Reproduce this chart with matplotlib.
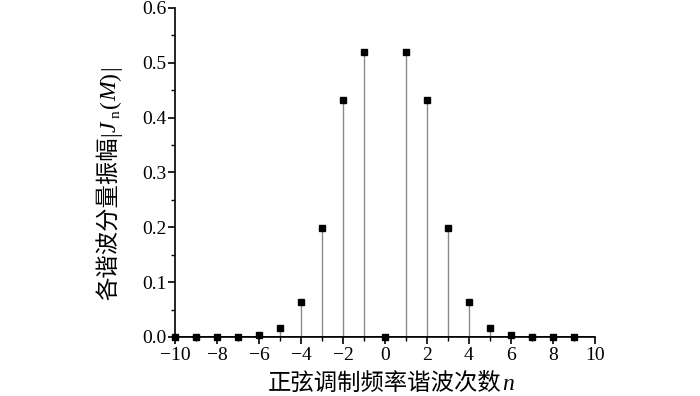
import matplotlib
matplotlib.use("Agg")
import matplotlib.pyplot as plt
from matplotlib.ticker import MultipleLocator
from matplotlib.transforms import IdentityTransform

plt.rcParams['font.family'] = ['Liberation Serif', 'Noto Sans CJK SC']
plt.rcParams['axes.unicode_minus'] = True

n_values = [-10, -9, -8, -7, -6, -5, -4, -3, -2, -1, 0, 1, 2, 3, 4, 5, 6, 7, 8, 9]
amplitudes = [0.0, 0.0, 0.0, 0.0006, 0.0034, 0.0164, 0.0647, 0.199, 0.432, 0.519, 0.0,
              0.519, 0.432, 0.199, 0.0647, 0.0164, 0.0034, 0.0006, 0.0, 0.0]
x_ticks = [-10, -8, -6, -4, -2, 0, 2, 4, 6, 8, 10]
y_ticks = [0.0, 0.1, 0.2, 0.3, 0.4, 0.5, 0.6]
# (text, style, subscript flag, extra gap after in px)
xlabel_parts = [('正弦调制频率谐波次数', 'cjk', 0, 0), ('n', 'it', 0, 0)]
ylabel_parts = [('各谐波分量振幅', 'cjk', 0, 0), ('|', 'rm', 0, 0), ('J', 'it', 0, 3),
                ('n', 'sub', 1, 2), ('(', 'rm', 0, 0), ('M', 'it', 0, 0), (')', 'rm', 0, 3),
                ('|', 'rm', 0, 0)]

fig = plt.figure(figsize=(7, 3.96), dpi=100)
ax = fig.add_axes([0.25, 0.149, 0.60, 0.831])

ml, sl, bl = ax.stem(n_values, amplitudes, basefmt=' ')
plt.setp(sl, color='#8a8a8a', linewidth=1.0)
plt.setp(ml, marker='s', markersize=5, color='black', zorder=3, clip_on=False)

ax.axhline(0, color='black', linewidth=1.2, zorder=2)
ax.set_xlim(-10, 10)
ax.set_ylim(0, 0.6)
ax.set_xticks(x_ticks)
ax.set_yticks(y_ticks)
ax.set_xticklabels([str(v).replace('-', '\u2212') for v in x_ticks])
ax.set_yticklabels([f'{v:.1f}' for v in y_ticks])
ax.xaxis.set_minor_locator(MultipleLocator(1))
ax.yaxis.set_minor_locator(MultipleLocator(0.05))

for s in ['top', 'right']:
    ax.spines[s].set_visible(False)
for s in ['left', 'bottom']:
    ax.spines[s].set_linewidth(1.2)

ax.tick_params(axis='both', which='major', direction='out', length=5, width=1.2, labelsize=14)
ax.tick_params(axis='both', which='minor', direction='out', length=3, width=1.0)
ax.tick_params(axis='y', pad=1)
ax.tick_params(axis='x', pad=2)

styles = {
    'cjk': dict(family=['Noto Sans CJK SC'], fontsize=16.8),
    'rm': dict(family=['Liberation Serif'], fontsize=17),
    'it': dict(family=['Liberation Serif'], style='italic', fontsize=17),
    'sub': dict(family=['Liberation Serif'], fontsize=11),
}

renderer = fig.canvas.get_renderer()


def draw_parts(parts, x0, y0, vertical):
    pos = x0 if not vertical else y0
    for text, st, sub, gap in parts:
        kw = styles[st]
        if vertical:
            t = fig.text(x0 + sub * 4, pos, text, rotation=90, rotation_mode='anchor',
                         ha='left', va='baseline', transform=IdentityTransform(), **kw)
            pos += t.get_window_extent(renderer).height + gap
        else:
            t = fig.text(pos, y0 - sub * 4, text, ha='left', va='baseline',
                         transform=IdentityTransform(), **kw)
            pos += t.get_window_extent(renderer).width + gap


draw_parts(xlabel_parts, 268, 6.5, vertical=False)
draw_parts(ylabel_parts, 116, 96, vertical=True)

fig.savefig('out.png', dpi=100)
